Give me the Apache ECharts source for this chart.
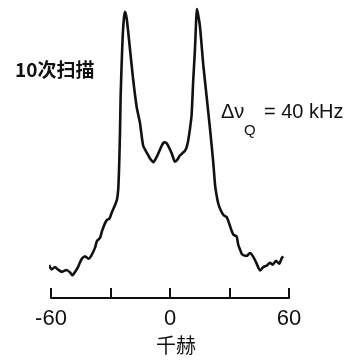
<!DOCTYPE html>
<html>
<head>
<meta charset="utf-8">
<script src="https://cdn.jsdelivr.net/npm/echarts@6/dist/echarts.min.js"></script>
<style>
  html, body { margin: 0; padding: 0; background: #fff; }
  #chart { width: 351px; height: 360px; }
</style>
</head>
<body>
<div id="chart"></div>
<script>
// frequency offset (kHz) and signal height
const freqKHz = [
  -61.0, -59.7, -58.0, -56.5, -54.5, -52.2, -50.4, -49.2, -47.9, -46.4,
  -44.6, -42.9, -41.1, -39.6, -37.8, -36.8, -35.3, -34.3, -32.8, -31.8,
  -30.5, -29.2, -27.7, -26.7, -26.1, -25.7, -25.5, -25.2, -24.9, -24.4,
  -23.8, -23.2, -22.7, -21.9, -21.2, -20.2, -18.5, -16.8, -15.1, -13.5,
  -10.9, -9.8, -8.4, -7.1, -5.9, -4.2, -3.0, -2.0, -0.9, 0.9,
  2.5, 3.8, 5.0, 6.6, 7.6, 8.6, 9.3, 10.1, 10.9, 11.7,
  12.6, 13.1, 13.5, 14.1, 15.1, 16.8, 18.5, 20.2, 21.8, 22.7,
  23.4, 24.4, 25.7, 27.0, 28.6, 29.5, 30.3, 31.9, 33.6, 34.4,
  35.3, 36.2, 37.3, 38.7, 40.3, 42.0, 43.7, 44.6, 45.4, 46.2,
  47.0, 48.8, 50.4, 51.8, 53.4, 55.1, 56.3, 57.1
]
const intensity = [
  34, 29.5, 32, 29.5, 27, 29, 26.5, 23.5, 27, 32,
  40, 43, 40.5, 44, 52, 59, 62, 69, 77, 80.5,
  82, 89, 96, 102, 112, 132, 147, 172, 207, 240,
  272, 289, 295, 289, 277, 257, 224, 197, 180, 157,
  147, 143, 140, 144, 149, 157, 160.5, 160, 157, 149,
  140.5, 143, 147, 150, 152, 157, 164, 175, 189, 224,
  257, 282, 298, 293, 280, 240, 207, 174, 140, 117,
  107, 97, 90, 85.5, 83.5, 79, 74, 65.5, 63.5, 55,
  50, 45.5, 44, 43.5, 46.5, 42.5, 35.5, 31, 28.5, 30,
  32, 33.5, 36.5, 34.5, 38.5, 35.5, 41, 43
]
const labeledTicks = [-60, 0, 60]   // -30 and 30 carry a tick but no number
const axisTitle = '千赫'
const scanLabel = '10次扫描'

const chart = echarts.init(document.getElementById('chart'))
const ink = '#111'
const font = 'Liberation Sans, Arial, sans-serif'

const option = {
  backgroundColor: '#fff',
  animation: false,
  grid: { left: 51, right: 62, top: 8, bottom: 53 },
  xAxis: {
    type: 'value',
    min: -60,
    max: 60,
    interval: 30,
    splitLine: { show: false },
    axisLine: { lineStyle: { color: ink, width: 2 } },
    axisTick: { inside: true, length: 10, lineStyle: { color: ink, width: 2 } },
    axisLabel: {
      color: ink, fontSize: 22, fontFamily: font, margin: 10,
      formatter: (v) => (labeledTicks.includes(v) ? String(v) : '')
    },
    name: axisTitle,
    nameLocation: 'middle',
    nameGap: 32,
    nameTextStyle: {
      color: ink, fontSize: 20, fontFamily: 'Noto Sans CJK SC',
      padding: [0, 0, 0, 12]
    }
  },
  yAxis: {
    type: 'value',
    min: 0,
    max: 299,
    show: false
  },
  series: [
    {
      type: 'line',
      data: freqKHz.map((f, i) => [f, intensity[i]]),
      showSymbol: false,
      smooth: 0.2,
      clip: false,
      lineStyle: { color: ink, width: 2.6 }
    }
  ],
  graphic: [
    {
      type: 'text', left: 15, top: 60,
      style: { text: scanLabel, fill: ink, font: 'bold 19px "Noto Sans CJK SC"' }
    },
    {
      type: 'text', x: 221, y: 112,
      style: { text: 'Δν', fill: ink, font: '20px ' + font, verticalAlign: 'middle' }
    },
    {
      type: 'text', x: 244, y: 131,
      style: { text: 'Q', fill: ink, font: '15px ' + font, verticalAlign: 'middle' }
    },
    {
      type: 'text', x: 264, y: 112,
      style: { text: '= 40 kHz', fill: ink, font: '20px ' + font, verticalAlign: 'middle' }
    }
  ]
}

chart.setOption(option)
</script>
</body>
</html>
